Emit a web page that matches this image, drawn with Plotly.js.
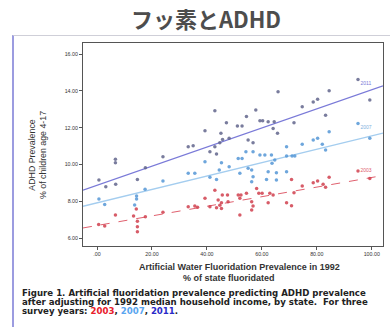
<!DOCTYPE html>
<html><head><meta charset="utf-8">
<script src="https://cdn.plot.ly/plotly-3.0.1.min.js"></script>
<style>
html,body{margin:0;padding:0;background:#fff;overflow:hidden;width:390px;height:327px;}
#frame{position:absolute;left:12px;top:35px;width:390px;height:300px;border-left:2px solid #9c9ce0;border-top:1px solid #cfcfd8;box-sizing:border-box;}
#chart{position:absolute;left:0;top:0;width:390px;height:327px;}
</style></head>
<body>
<div id="frame"></div>
<div id="chart"></div>
<script>
// Data: % of state fluoridated (1992) vs ADHD prevalence (% of children 4-17)
const x2011 = [6.7,6.7,24,17.6,0.7,3.2,6.8,14.7,
  65.9,42.9,57.8,54.4,47.1,51.1,52.8,59.3,60.3,62.3,64.5,64.1,65.7,39.3,45.1,48.1,45.7,55,56.8,33.2,35,42.9,44.7,41.1,43.5,
  95,84.5,78.7,80.3,74.7,83.2,99.3,71.7];
const y2011 = [10.29,10.1,10.42,9.82,9.15,8.79,8.92,9.19,
  13.95,12.92,12.96,12.6,12.27,12.09,12.09,12.37,12.37,12.32,12.32,11.96,11.69,11.83,11.69,11.42,11.36,11.33,11.18,10.96,11.02,10.96,11.18,10.69,10.57,
  14.62,14.0,13.4,13.54,13.14,12.68,13.5,12.27];
const x2007 = [24,17.5,0.7,2.8,14.4,14.4,13.7,
  54.2,56.8,59.3,61.1,63.5,69,69,64.7,63.7,51.4,52.8,39.3,45.3,48.1,44.5,55,56.3,33.2,35.6,41.1,43.5,52,56.8,62.3,65.3,69,56.3,61.7,65.3,
  95,84.5,99.3,78.7,80.3,74.7,82,83.2,71,72];
const y2007 = [9.1,8.66,8.12,7.83,8.28,8.12,7.8,
  10.69,10.69,10.51,10.51,10.51,10.96,10.46,10.24,10.06,10.33,10.33,10.15,10.09,9.87,9.7,9.79,9.7,9.52,9.52,9.3,9.19,9.52,9.33,9.6,9.55,9.6,9.06,9.19,9.15,
  12.23,11.78,11.42,11.33,11.42,11.1,11.1,10.78,10.46,10.46];
const x2003 = [6.7,0.6,2.8,13.3,17.6,14.7,14.7,14.7,24,14.3,
  42.9,39.3,45.6,47.5,51.4,52.4,54.4,58.1,58.9,60.1,62.9,64.1,44.1,45.3,47.7,52,56.3,56.8,33.2,35.6,36.6,41.1,43.5,44.7,45.3,62.3,69,56.3,52,
  95,99.3,84.5,78.7,80.3,82.3,83.2,74.7,71.7,70.8,70.8];
const y2003 = [7.25,6.74,6.65,7.2,7.16,6.92,6.61,6.34,7.4,7.58,
  8.6,8.16,8.34,8.34,8.34,8.34,8.43,8.7,8.43,8.43,8.43,8.34,8.07,7.92,7.97,8.16,7.97,7.74,7.7,7.74,7.67,7.7,7.65,7.79,7.61,7.92,7.92,7.52,7.25,
  9.64,9.24,9.3,9.0,9.1,8.93,8.76,8.83,8.47,9.19,7.76];
// Fit lines (ends)
const fitX = [-5.1, 104.1];
const fit2011 = [8.6, 14.27];
const fit2007 = [7.73, 11.7];
const fit2003 = [6.55, 9.4];
const yearLabels = ['2011','2007','2003'];
const labelY = [14.45, 12.05, 9.7];
const xTickVals = [0,20,40,60,80,100];
const xTickText = ['.00','20.00','40.00','60.00','80.00','100.00'];
const yTickVals = [6,8,10,12,14,16];
const yTickText = ['6.00','8.00','10.00','12.00','14.00','16.00'];

const c11='#7a7ad8', c07='#a4cdef', c03='#e0606e';
const m11='#62658c', m07='#5596d6', m03='#d0404e';

function pts(x,y,col){return {type:'scatter',mode:'markers',x:x,y:y,marker:{size:3.5,color:col,opacity:0.85},showlegend:false,hoverinfo:'skip'};}
function line(y,col,dash,w){return {type:'scatter',mode:'lines',x:fitX,y:y,line:{color:col,width:w,dash:dash},showlegend:false,hoverinfo:'skip'};}

const traces=[line(fit2003,c03,'dash',1),line(fit2007,c07,'solid',1.3),line(fit2011,c11,'solid',1.3),
  pts(x2003,y2003,m03),pts(x2007,y2007,m07),pts(x2011,y2011,m11)];

const W=300,H=203;
function px(x){return (x-83)/W;} function py(y){return (246-y)/H;}
const cap={family:'DejaVu Sans',size:8.6,color:'#222',weight:700};
const labCols=[c11,'#7fb2e0',c03];
const annotations=[
 {xref:'paper',yref:'paper',x:px(37),y:py(155),text:'ADHD Prevalence<br>% of children age 4-17',textangle:-90,showarrow:false,
  font:{family:'Liberation Sans',size:8.8,color:'#333'},xanchor:'center',yanchor:'middle'},
 {xref:'paper',yref:'paper',x:px(239),y:py(267),text:'Artificial Water Fluoridation Prevalence in 1992',showarrow:false,
  font:{family:'Liberation Sans',size:9,color:'#333',weight:700},xanchor:'center',yanchor:'middle'},
 {xref:'paper',yref:'paper',x:px(229),y:py(278),text:'% of state fluoridated',showarrow:false,
  font:{family:'Liberation Sans',size:9,color:'#333',weight:700},xanchor:'center',yanchor:'middle'},
 {xref:'paper',yref:'paper',x:px(20),y:py(293),text:'Figure 1. Artificial fluoridation prevalence predicting ADHD prevalence',showarrow:false,font:cap,xanchor:'left',yanchor:'middle'},
 {xref:'paper',yref:'paper',x:px(20),y:py(302),text:'after adjusting for 1992 median household income, by state.  For three',showarrow:false,font:cap,xanchor:'left',yanchor:'middle'},
 {xref:'paper',yref:'paper',x:px(20),y:py(310.5),text:'survey years: <span style="color:#e8202a">2003</span>, <span style="color:#5aa6f0">2007</span>, <span style="color:#2a2ac8">2011</span>.',showarrow:false,font:cap,xanchor:'left',yanchor:'middle'}
];
yearLabels.forEach((t,i)=>annotations.push({x:98,y:labelY[i],text:t,showarrow:false,font:{family:'Liberation Sans',size:5,color:labCols[i]},
  bgcolor:'rgba(255,255,255,0.7)',bordercolor:'rgba(0,0,0,0)',borderwidth:0,borderpad:0.5,xanchor:'center',yanchor:'middle'}));

const axisCommon={showgrid:false,zeroline:false,showline:true,mirror:true,linecolor:'#555',linewidth:1,ticks:'outside',ticklen:3,tickcolor:'#555',
  tickfont:{family:'Liberation Sans',size:5.3,color:'#333'}};
const layout={width:390,height:327,margin:{l:83,r:7,t:43,b:81},
  paper_bgcolor:'rgba(0,0,0,0)',plot_bgcolor:'#fff',
  title:{text:'フッ素とADHD',font:{family:'Noto Sans CJK JP',size:22,color:'#4d4d4d',weight:700},xref:'container',x:206/390,xanchor:'center',yref:'container',y:1-20/327,yanchor:'middle'},
  xaxis:Object.assign({},axisCommon,{range:[-5.1,104.1],tickvals:xTickVals,ticktext:xTickText}),
  yaxis:Object.assign({},axisCommon,{range:[5.57,16.6],tickvals:yTickVals,ticktext:yTickText}),
  annotations:annotations,showlegend:false};
Plotly.newPlot('chart',traces,layout,{displayModeBar:false,staticPlot:true});
</script>
</body></html>
